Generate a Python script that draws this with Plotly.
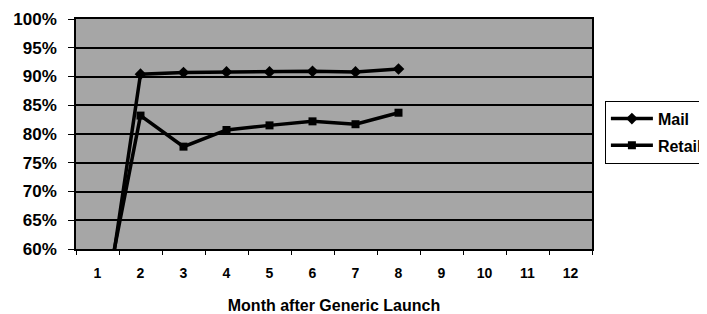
import plotly.graph_objects as go

months = ["1", "2", "3", "4", "5", "6", "7", "8", "9", "10", "11", "12"]
data_months = ["1", "2", "3", "4", "5", "6", "7", "8"]
mail = [40.0, 90.4, 90.7, 90.8, 90.8, 90.9, 90.8, 91.3]
retail = [45.0, 83.2, 77.8, 80.7, 81.5, 82.2, 81.7, 83.7]
y_ticks = [60, 65, 70, 75, 80, 85, 90, 95, 100]
y_tick_labels = ["60%", "65%", "70%", "75%", "80%", "85%", "90%", "95%", "100%"]

FONT = "Liberation Sans, Arial, sans-serif"

fig = go.Figure()
fig.add_trace(go.Scatter(
    x=data_months, y=mail, name="<b>Mail</b>", mode="lines+markers",
    line=dict(color="black", width=3.5),
    marker=dict(symbol="diamond", size=9, color="black"),
    legendgroup="a",
))
fig.add_trace(go.Scatter(
    x=data_months, y=retail, name="<b>Retail</b>", mode="lines+markers",
    line=dict(color="black", width=3.5),
    marker=dict(symbol="square", size=8, color="black"),
    legendgroup="b",
))

fig.update_layout(
    width=707, height=314,
    margin=dict(l=68, r=123, t=11, b=73, autoexpand=False),
    paper_bgcolor="white",
    plot_bgcolor="#a6a6a6",
    font=dict(family=FONT, color="black"),
    legend=dict(
        x=1.025, y=0.645, xanchor="left", yanchor="top",
        bordercolor="black", borderwidth=1, bgcolor="white",
        font=dict(size=16, family=FONT, color="black"),
        traceorder="grouped", tracegroupgap=3, itemwidth=42,
    ),
    xaxis=dict(
        type="category", categoryorder="array", categoryarray=months,
        range=[-0.5, 11.5], automargin=False,
        showgrid=False, zeroline=False,
        showline=True, linecolor="black", linewidth=1.5, mirror=True,
        ticks="outside", tickson="boundaries", ticklen=4, tickcolor="black",
        tickmode="array", tickvals=months,
        ticktext=["<b>" + m + "</b>" for m in months],
        ticklabelstandoff=10,
        tickfont=dict(size=14, family=FONT, color="black"),
        title=dict(text="<b>Month after Generic Launch</b>",
                   font=dict(size=16, family=FONT, color="black"), standoff=20),
    ),
    yaxis=dict(
        range=[60, 100], tickmode="array", tickvals=y_ticks, automargin=False,
        ticktext=["<b>" + t + "</b>" for t in y_tick_labels],
        showgrid=True, gridcolor="black", gridwidth=1.5, zeroline=False,
        showline=True, linecolor="black", linewidth=1.5, mirror=True,
        ticks="outside", ticklen=6, tickcolor="black",
        ticklabelstandoff=8,
        tickfont=dict(size=17, family=FONT, color="black"),
    ),
)

fig.write_html("out.html")
